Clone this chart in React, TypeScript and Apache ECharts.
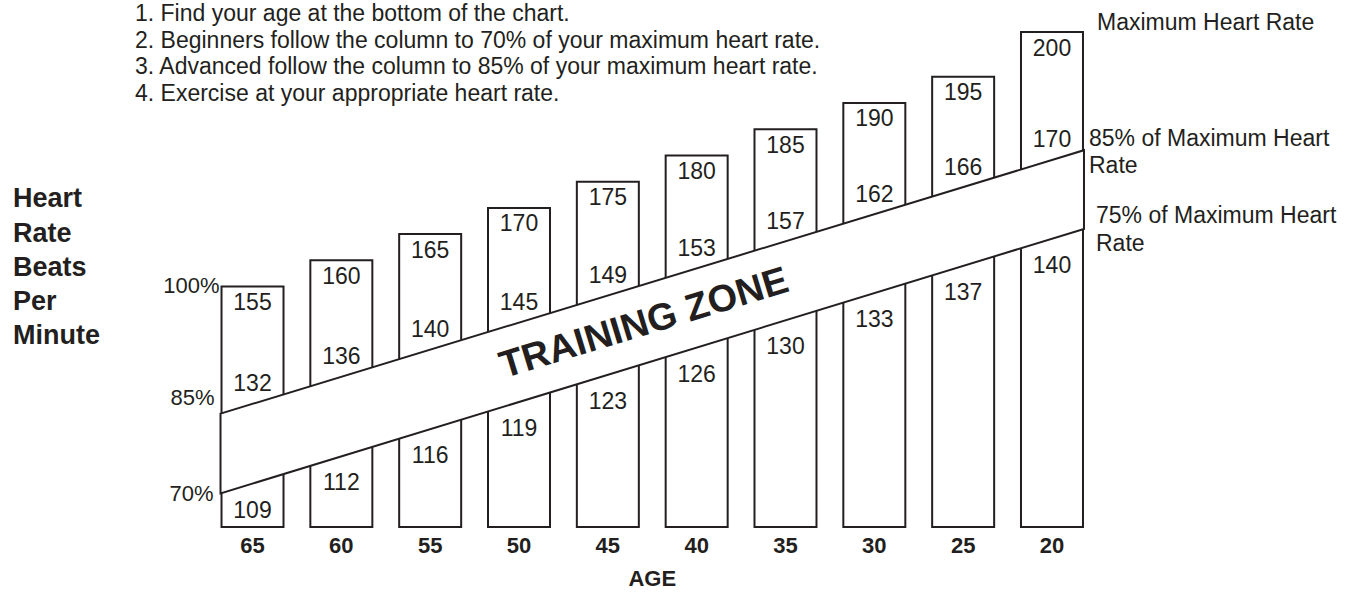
import React, { useEffect, useRef } from 'react';
import * as echarts from 'echarts';

// ---- data ----
const ages = ['65', '60', '55', '50', '45', '40', '35', '30', '25', '20'];
const maxHeartRate = [155, 160, 165, 170, 175, 180, 185, 190, 195, 200];
const pct85 = [132, 136, 140, 145, 149, 153, 157, 162, 166, 170];
const pct70 = [109, 112, 116, 119, 123, 126, 130, 133, 137, 140];
// column heights as drawn (the last column is drawn taller than its value)
const columnHeight = [155, 160, 165, 170, 175, 180, 185, 190, 195, 203.5];
// training-zone band edges: value at left edge of first column, right edge of last column
const bandUpper = [130.6, 180.8];
const bandLower = [115.4, 165.8];
const percentTicks = ['100%', '85%', '70%'];
const instructions = [
  '1. Find your age at the bottom of the chart.',
  '2. Beginners follow the column to 70% of your maximum heart rate.',
  '3. Advanced follow the column to 85% of your maximum heart rate.',
  '4. Exercise at your appropriate heart rate.',
];
const yTitle = ['Heart', 'Rate', 'Beats', 'Per', 'Minute'];
const xTitle = 'AGE';
const bandTitle = 'TRAINING ZONE';
const maxLabel = 'Maximum Heart Rate';
const upperLabel = '85% of Maximum Heart\nRate';
const lowerLabel = '75% of Maximum Heart\nRate';

// ---- styles ----
const INK = '#231f20';
const FONT = '"Liberation Sans", Arial, Helvetica, sans-serif';
const BAR_W = 64;
const NUM_SIZE = 23;

export default function App() {
  const ref = useRef<HTMLDivElement>(null);

  useEffect(() => {
    if (!ref.current) return;
    const chart = echarts.init(ref.current, null, { renderer: 'svg' });
    const lastIdx = ages.length - 1;

    const bandCorners = (api: any) => {
      const half = BAR_W / 2;
      const tl = api.coord([0, bandUpper[0]]);
      const tr = api.coord([lastIdx, bandUpper[1]]);
      const bl = api.coord([0, bandLower[0]]);
      const br = api.coord([lastIdx, bandLower[1]]);
      return {
        tl: [tl[0] - half, tl[1]],
        tr: [tr[0] + half, tr[1]],
        bl: [bl[0] - half, bl[1]],
        br: [br[0] + half, br[1]],
      };
    };
    const yAt = (a: number[], b: number[], x: number) =>
      a[1] + ((b[1] - a[1]) * (x - a[0])) / (b[0] - a[0]);

    const txt = (text: string, x: number, y: number, extra: any = {}) => ({
      type: 'text',
      style: {
        text,
        x,
        y,
        fill: INK,
        fontSize: NUM_SIZE,
        fontFamily: FONT,
        align: 'center',
        verticalAlign: 'middle',
        ...extra,
      },
    });

    const option: any = {
      animation: false,
      grid: { left: 208.1, right: 264.6, top: 23.2, bottom: 62, containLabel: false },
      xAxis: {
        type: 'category',
        data: ages,
        axisLine: { show: false },
        axisTick: { show: false },
        axisLabel: {
          color: INK,
          fontSize: 22,
          fontWeight: 'bold',
          fontFamily: FONT,
          margin: 7,
        },
        name: xTitle,
        nameLocation: 'middle',
        nameGap: 40,
        nameTextStyle: { color: INK, fontSize: 22, fontWeight: 'bold', fontFamily: FONT },
      },
      yAxis: { type: 'value', min: 109, max: 205, show: false },
      series: [
        {
          type: 'bar',
          data: columnHeight,
          barWidth: BAR_W,
          z: 2,
          itemStyle: { color: '#ffffff', borderColor: INK, borderWidth: 2 },
          label: {
            show: true,
            position: 'insideTop',
            distance: 5,
            formatter: (p: any) => String(maxHeartRate[p.dataIndex]),
            color: INK,
            fontSize: NUM_SIZE,
            fontFamily: FONT,
            textBorderWidth: 0,
          },
        },
        {
          type: 'custom',
          z: 3,
          clip: false,
          data: [[0, bandUpper[0]]],
          renderItem: (_params: any, api: any) => {
            const { tl, tr, bl, br } = bandCorners(api);
            const angle = Math.atan2(tl[1] - tr[1], tr[0] - tl[0]);
            const t = 0.49;
            const cx = tl[0] + (tr[0] - tl[0]) * t;
            const cy = (yAt(tl, tr, cx) + yAt(bl, br, cx)) / 2 - 2;
            const col0Top = api.coord([0, columnHeight[0]])[1];
            return {
              type: 'group',
              children: [
                {
                  type: 'polygon',
                  shape: { points: [tl, tr, br, bl] },
                  style: { fill: '#ffffff', stroke: INK, lineWidth: 2 },
                },
                {
                  type: 'text',
                  x: cx,
                  y: cy,
                  rotation: angle,
                  style: {
                    text: bandTitle,
                    x: 0,
                    y: 0,
                    fill: INK,
                    fontSize: 38,
                    fontWeight: 'bold',
                    fontFamily: FONT,
                    align: 'center',
                    verticalAlign: 'middle',
                  },
                },
                txt(percentTicks[0], tl[0] - 1, col0Top, { align: 'right', fontSize: 22 }),
                txt(percentTicks[1], tl[0] - 6, tl[1] - 16, { align: 'right', fontSize: 22 }),
                txt(percentTicks[2], tl[0] - 7, bl[1], { align: 'right', fontSize: 22 }),
                txt(upperLabel, tr[0] + 5, tr[1] + 1.5, {
                  align: 'left',
                  fontSize: 23,
                  lineHeight: 27.5,
                }),
                txt(lowerLabel, br[0] + 12, br[1], {
                  align: 'left',
                  fontSize: 23,
                  lineHeight: 28,
                }),
              ],
            };
          },
        },
        {
          type: 'custom',
          z: 4,
          clip: false,
          data: ages.map((_, i) => [i, pct85[i], pct70[i]]),
          renderItem: (params: any, api: any) => {
            const i = params.dataIndex;
            const { tl, tr, bl, br } = bandCorners(api);
            const cx = api.coord([i, columnHeight[i]])[0];
            const topY = yAt(tl, tr, cx);
            const botY = yAt(bl, br, cx);
            return {
              type: 'group',
              children: [
                txt(String(pct85[i]), cx, topY - 20.5),
                txt(String(pct70[i]), cx, botY + 26),
              ],
            };
          },
        },
      ],
      graphic: [
        {
          type: 'text',
          left: 135,
          top: 0,
          style: {
            text: instructions.join('\n'),
            fill: INK,
            fontSize: 23,
            lineHeight: 26.5,
            fontFamily: FONT,
          },
        },
        {
          type: 'text',
          x: 13,
          y: 266.7,
          style: {
            text: yTitle.join('\n'),
            fill: INK,
            fontSize: 27,
            fontWeight: 'bold',
            lineHeight: 34.2,
            fontFamily: FONT,
            align: 'left',
            verticalAlign: 'middle',
          },
        },
        {
          type: 'text',
          x: 1097,
          y: 21.7,
          style: {
            text: maxLabel,
            fill: INK,
            fontSize: 23,
            fontFamily: FONT,
            align: 'left',
            verticalAlign: 'middle',
          },
        },
      ],
    };

    chart.setOption(option);
    return () => chart.dispose();
  }, []);

  return (
    <div
      ref={ref}
      style={{ position: 'fixed', left: 0, top: 0, width: '1361px', height: '594px', background: '#ffffff' }}
    />
  );
}
